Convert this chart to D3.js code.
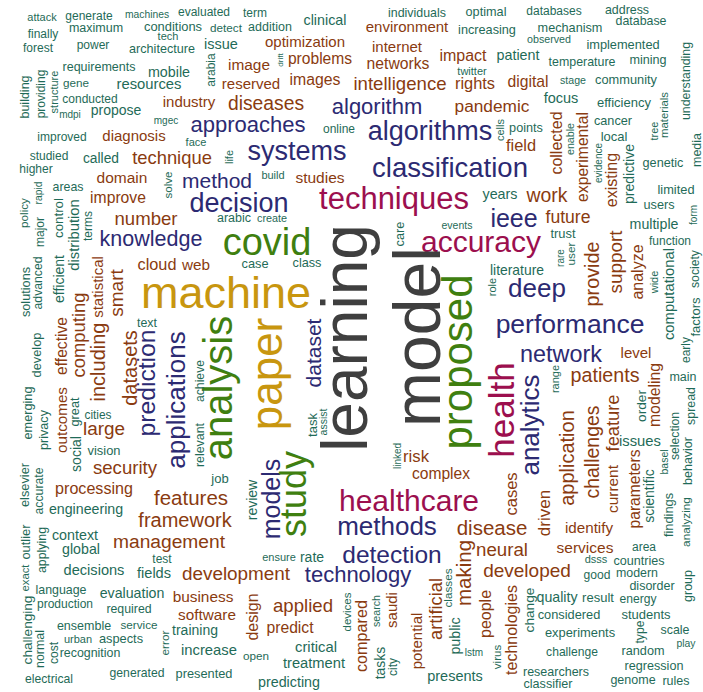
<!DOCTYPE html>
<html>
<head>
<meta charset="utf-8">
<script src="https://cdn.jsdelivr.net/npm/d3@7"></script>
<style>
  html, body { margin: 0; padding: 0; background: #fff; }
  text { font-family: "Liberation Sans", Arial, sans-serif; }
</style>
</head>
<body>
<div id="chart"></div>
<script>
// word, frequency, layout x, layout y, vertical (1 = rotated)
var topLeftWords = [
  ["attack", 110, 42, 17, 0], ["generate", 120, 89, 16, 0], ["machines", 103, 147, 14, 0],
  ["evaluated", 120, 204, 12, 0], ["maximum", 125, 96, 28, 0], ["conditions", 129, 173, 26, 0],
  ["detect", 117, 226, 27, 0], ["finally", 120, 43, 34, 0], ["tech", 110, 168, 36, 0],
  ["forest", 120, 38, 48, 0], ["power", 120, 93, 45, 0], ["architecture", 126, 162, 49, 0],
  ["issue", 145, 221, 44, 0], ["requirements", 125, 99, 67, 0], ["mobile", 143, 169, 72, 0],
  ["arabia", 120, 211, 70, 1], ["image", 154, 249, 64, 0], ["gene", 117, 76, 82, 0],
  ["resources", 148, 149, 84, 0], ["reserved", 150, 251, 83, 0], ["building", 125, 25, 97, 1],
  ["providing", 120, 41, 94, 1], ["structure", 110, 54, 92, 1], ["conducted", 120, 90, 99, 0],
  ["industry", 150, 189, 101, 0], ["mdpi", 100, 70, 114, 0], ["propose", 140, 116, 110, 0],
  ["mgec", 100, 166, 120, 0], ["approaches", 220, 248, 124, 0], ["improved", 120, 62, 137, 0],
  ["diagnosis", 150, 134, 135, 0], ["face", 110, 196, 142, 0], ["studied", 120, 49, 156, 0],
  ["called", 138, 101, 158, 0], ["technique", 184, 172, 157, 0], ["life", 110, 229, 157, 1],
  ["higher", 120, 36, 169, 0]
];

var topMidWords = [
  ["term", 120, 255, 13, 0], ["addition", 125, 270, 27, 0], ["clinical", 143, 325, 20, 0],
  ["individuals", 124, 417, 13, 0], ["environment", 150, 407, 26, 0], ["optimization", 150, 305, 41, 0],
  ["drift", 80, 280, 60, 1], ["problems", 156, 320, 58, 0], ["internet", 150, 397, 46, 0],
  ["networks", 157, 398, 63, 0], ["impact", 160, 463, 55, 0], ["twitter", 110, 472, 71, 0],
  ["images", 158, 315, 79, 0], ["intelligence", 186, 400, 83, 0], ["rights", 164, 475, 83, 0],
  ["diseases", 193, 266, 103, 0], ["algorithm", 220, 377, 106, 0], ["pandemic", 173, 492, 106, 0],
  ["online", 120, 339, 129, 0], ["algorithms", 270, 430, 131, 0], ["systems", 270, 297, 151, 0],
  ["classification", 275, 450, 167, 0], ["build", 110, 273, 175, 0], ["studies", 155, 320, 177, 0]
];

var topRightWords = [
  ["optimal", 127, 486, 12, 0], ["databases", 120, 554, 11, 0], ["address", 124, 627, 10, 0],
  ["database", 124, 641, 21, 0], ["increasing", 127, 487, 30, 0], ["mechanism", 127, 570, 28, 0],
  ["observed", 107, 549, 39, 0], ["implemented", 128, 623, 44, 0], ["patient", 143, 518, 55, 0],
  ["temperature", 124, 582, 62, 0], ["mining", 126, 648, 60, 0], ["understanding", 123, 686, 81, 1],
  ["digital", 157, 528, 81, 0], ["stage", 106, 573, 80, 0], ["community", 128, 626, 79, 0],
  ["focus", 145, 561, 98, 0], ["efficiency", 130, 624, 102, 0], ["tree", 110, 654, 131, 1],
  ["materials", 113, 664, 115, 1], ["cells", 110, 500, 130, 1], ["points", 127, 526, 128, 0],
  ["field", 164, 521, 145, 0], ["collected", 160, 556, 143, 1], ["enable", 107, 570, 139, 1],
  ["experimental", 157, 582, 157, 1], ["cancer", 127, 613, 121, 0], ["local", 130, 614, 136, 0],
  ["evidence", 100, 598, 163, 1], ["existing", 160, 611, 180, 1], ["predictive", 140, 629, 174, 1],
  ["genetic", 127, 663, 163, 0], ["media", 125, 697, 150, 1]
];

var midLeftWords = [
  ["domain", 155, 122, 177, 0], ["solve", 115, 168, 185, 1], ["method", 210, 217, 180, 0],
  ["areas", 124, 68, 187, 0], ["rapid", 103, 38, 193, 1], ["policy", 117, 23, 213, 1],
  ["improve", 157, 118, 197, 0], ["decision", 270, 239, 203, 0], ["control", 133, 58, 218, 1],
  ["major", 120, 40, 232, 1], ["distribution", 148, 74, 235, 1], ["terms", 120, 88, 226, 1],
  ["number", 186, 146, 218, 0], ["arabic", 125, 234, 218, 0], ["create", 108, 272, 218, 0],
  ["knowledge", 215, 151, 239, 0], ["covid", 380, 267, 242, 0], ["solutions", 127, 26, 292, 1],
  ["advanced", 122, 38, 283, 1], ["efficient", 140, 59, 279, 1], ["statistical", 150, 97, 287, 1],
  ["smart", 190, 116, 293, 1], ["cloud", 163, 157, 264, 0], ["web", 153, 196, 264, 0],
  ["case", 128, 255, 263, 0], ["class", 127, 307, 263, 0], ["machine", 450, 226, 292, 0],
  ["text", 124, 147, 323, 0], ["computing", 184, 78, 335, 1], ["effective", 156, 61, 346, 1],
  ["develop", 128, 36, 355, 1], ["analysis", 400, 218, 388, 1], ["paper", 440, 266, 374, 1],
  ["dataset", 210, 313, 353, 1], ["learning", 640, 345, 338, 1], ["care", 128, 399, 234, 1],
  ["events", 105, 457, 225, 0], ["techniques", 310, 394, 198, 0], ["accuracy", 300, 481, 241, 0],
  ["model", 660, 417, 337, 1], ["proposed", 420, 457, 362, 1]
];

var midRightWords = [
  ["years", 143, 500, 194, 0], ["work", 194, 547, 195, 0], ["ieee", 250, 514, 218, 0],
  ["future", 176, 568, 217, 0], ["limited", 128, 676, 189, 0], ["users", 127, 659, 205, 0],
  ["multiple", 142, 654, 224, 0], ["form", 100, 693, 215, 1], ["function", 120, 670, 241, 0],
  ["trust", 129, 563, 233, 0], ["rare", 100, 560, 258, 1], ["user", 118, 571, 254, 1],
  ["provide", 198, 592, 274, 1], ["support", 189, 615, 262, 1], ["analyze", 160, 637, 272, 1],
  ["wide", 110, 654, 282, 1], ["computational", 148, 669, 294, 1], ["society", 122, 695, 269, 1],
  ["factors", 130, 695, 317, 1], ["literature", 139, 517, 270, 0], ["role", 110, 492, 287, 1],
  ["deep", 260, 537, 288, 0], ["performance", 265, 570, 324, 0], ["early", 120, 686, 350, 1],
  ["network", 234, 561, 354, 0], ["level", 150, 636, 352, 0], ["range", 110, 555, 379, 1],
  ["patients", 197, 605, 375, 0], ["modeling", 158, 654, 395, 1], ["main", 125, 683, 377, 0],
  ["spread", 124, 691, 406, 1], ["order", 137, 641, 406, 1], ["health", 350, 501, 410, 1],
  ["analytics", 260, 530, 425, 1], ["feature", 183, 612, 423, 1], ["issues", 148, 640, 441, 0],
  ["selection", 122, 675, 436, 1], ["basel", 105, 664, 462, 1], ["behavior", 125, 688, 461, 1],
  ["application", 200, 567, 458, 1], ["challenges", 195, 592, 452, 1], ["current", 154, 612, 489, 1],
  ["parameters", 156, 634, 489, 1], ["scientific", 140, 649, 496, 1], ["findings", 128, 668, 515, 1],
  ["analyzing", 118, 686, 522, 1], ["cases", 165, 511, 494, 1], ["driven", 170, 544, 513, 1]
];

var lowLeftWords = [
  ["emerging", 127, 28, 413, 1], ["privacy", 126, 44, 430, 1], ["outcomes", 152, 61, 420, 1],
  ["great", 127, 75, 412, 1], ["social", 140, 76, 454, 1], ["including", 200, 98, 362, 1],
  ["datasets", 200, 130, 368, 1], ["cities", 119, 98, 415, 0], ["prediction", 247, 146, 383, 1],
  ["large", 189, 104, 428, 0], ["applications", 260, 176, 400, 1], ["achieve", 122, 200, 381, 1],
  ["relevant", 124, 200, 445, 1], ["vision", 129, 104, 450, 0], ["security", 186, 125, 467, 0],
  ["job", 130, 220, 478, 0], ["processing", 161, 94, 488, 0], ["features", 205, 191, 497, 0],
  ["elsevier", 128, 24, 485, 1], ["accurate", 123, 39, 491, 1], ["engineering", 142, 86, 509, 0],
  ["task", 130, 312, 425, 1], ["assist", 105, 323, 422, 1], ["linked", 100, 397, 456, 1],
  ["risk", 167, 416, 456, 0], ["complex", 156, 441, 473, 0], ["healthcare", 300, 409, 500, 0],
  ["review", 140, 252, 500, 1], ["models", 250, 271, 499, 1], ["study", 360, 293, 494, 1]
];

var bottomLeftWords = [
  ["framework", 200, 185, 520, 0], ["outlier", 129, 25, 542, 1], ["exact", 113, 25, 578, 1],
  ["applying", 124, 42, 550, 1], ["context", 143, 75, 535, 0], ["management", 192, 169, 541, 0],
  ["global", 142, 81, 549, 0], ["test", 120, 162, 559, 0], ["decisions", 146, 94, 570, 0],
  ["fields", 146, 154, 573, 0], ["language", 124, 61, 590, 0], ["evaluation", 142, 132, 593, 0],
  ["business", 154, 203, 596, 0], ["challenging", 136, 27, 630, 1], ["production", 120, 65, 604, 0],
  ["required", 123, 129, 609, 0], ["software", 153, 207, 614, 0], ["normal", 124, 40, 649, 1],
  ["ensemble", 125, 84, 626, 0], ["service", 117, 139, 624, 0], ["training", 140, 195, 630, 0],
  ["urban", 110, 78, 639, 0], ["aspects", 128, 121, 638, 0], ["error", 118, 165, 643, 1],
  ["cost", 120, 54, 653, 1], ["recognition", 124, 90, 653, 0], ["increase", 148, 209, 650, 0],
  ["electrical", 122, 49, 679, 0], ["generated", 122, 137, 673, 0], ["presented", 128, 204, 673, 0]
];

var bottomMidWords = [
  ["methods", 260, 387, 526, 0], ["ensure", 110, 279, 557, 0], ["rate", 140, 312, 557, 0],
  ["detection", 245, 392, 554, 0], ["development", 189, 236, 573, 0], ["technology", 220, 358, 574, 0],
  ["classes", 117, 447, 588, 1], ["applied", 186, 303, 605, 0], ["design", 160, 252, 617, 1],
  ["devices", 115, 347, 612, 1], ["compared", 162, 361, 636, 1], ["search", 107, 376, 611, 1],
  ["saudi", 150, 391, 610, 1], ["artificial", 183, 435, 609, 1], ["predict", 157, 290, 627, 0],
  ["potential", 150, 416, 641, 1], ["public", 142, 455, 636, 1], ["critical", 148, 316, 647, 0],
  ["open", 117, 256, 655, 0], ["treatment", 147, 314, 663, 0], ["tasks", 140, 380, 663, 1],
  ["city", 120, 393, 667, 1], ["predicting", 143, 289, 682, 0], ["presents", 145, 455, 676, 0]
];

var bottomRightWords = [
  ["disease", 205, 492, 527, 0], ["identify", 152, 589, 527, 0], ["neural", 187, 502, 549, 0],
  ["services", 155, 585, 547, 0], ["area", 120, 644, 547, 0], ["dsss", 110, 596, 559, 0],
  ["countries", 126, 639, 561, 0], ["developed", 190, 527, 570, 0], ["good", 121, 597, 575, 0],
  ["modern", 124, 637, 573, 0], ["group", 125, 688, 586, 1], ["disorder", 125, 652, 586, 0],
  ["making", 205, 463, 573, 1], ["people", 160, 485, 614, 1], ["technologies", 160, 511, 630, 1],
  ["change", 137, 529, 610, 1], ["quality", 142, 557, 597, 0], ["result", 130, 598, 597, 0],
  ["energy", 121, 638, 599, 0], ["considered", 128, 569, 614, 0], ["students", 130, 646, 614, 0],
  ["experiments", 129, 580, 632, 0], ["type", 122, 640, 632, 1], ["scale", 124, 675, 630, 0],
  ["play", 104, 686, 643, 0], ["lstm", 100, 474, 652, 0], ["virus", 115, 497, 657, 1],
  ["challenge", 121, 572, 652, 0], ["random", 127, 643, 651, 0], ["regression", 126, 654, 666, 0],
  ["researchers", 125, 556, 672, 0], ["genome", 125, 633, 680, 0], ["rules", 125, 676, 681, 0],
  ["classifier", 126, 548, 684, 0]
];

var freqBreaks = [150, 210, 290, 355, 430, 600];
var bandColors = ["#1f6b58", "#8a3b10", "#2c2a72", "#9c0f4e", "#3f7f10", "#c8960f", "#3f3f3f"];

var width = 703, height = 692;

var words = [].concat(topLeftWords, topMidWords, topRightWords, midLeftWords, midRightWords,
                      lowLeftWords, bottomLeftWords, bottomMidWords, bottomRightWords);

var x = d3.scaleLinear().domain([0, 703]).range([0, width]);
var y = d3.scaleLinear().domain([0, 692]).range([0, height]);
var fontSize = d3.scaleLinear().domain([0, 660]).range([0, 66]);
var color = d3.scaleThreshold().domain(freqBreaks).range(bandColors);

var svg = d3.select("#chart").append("svg")
    .attr("width", width)
    .attr("height", height);

svg.append("rect").attr("width", width).attr("height", height).attr("fill", "#fff");

svg.append("g").selectAll("text")
    .data(words)
    .join("text")
    .attr("transform", function(d) {
        return "translate(" + x(d[2]) + "," + y(d[3]) + ")" + (d[4] ? " rotate(-90)" : "");
    })
    .attr("text-anchor", "middle")
    .attr("dominant-baseline", "central")
    .style("font-size", function(d) { return fontSize(d[1]) + "px"; })
    .attr("fill", function(d) { return color(d[1]); })
    .text(function(d) { return d[0]; });
</script>
</body>
</html>
